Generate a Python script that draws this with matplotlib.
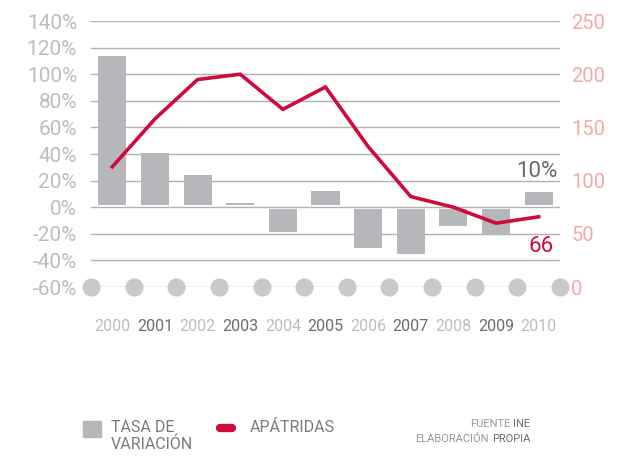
import numpy as np
import matplotlib.pyplot as plt
from matplotlib.patches import Rectangle
from matplotlib.lines import Line2D

plt.rcParams['font.family'] = ['Roboto', 'DejaVu Sans']

years = ['2000', '2001', '2002', '2003', '2004', '2005',
         '2006', '2007', '2008', '2009', '2010']
tasa = [112, 39, 23, 1.3, -17.5, 11, -29, -33.5, -12.5, -19.5, 10]   # %
apatridas = [113, 158, 195, 200, 167, 188, 132, 85, 75, 60, 66]

left_ticks = [-60, -40, -20, 0, 20, 40, 60, 80, 100, 120, 140]
right_ticks = [0, 50, 100, 150, 200, 250]

GREY_BAR = '#b6b7ba'
RED = '#cf0a3c'
GRID = '#b2b2b2'
LIGHT = '#bdbdbd'
DARK = '#6d6d6d'
SALMON = '#f2aba3'

fig = plt.figure(figsize=(6.22, 4.59), dpi=100)
ax = fig.add_axes([0.1463, 0.3747, 0.7540, 0.5795])
x = np.arange(len(years))

# bars sit slightly off the zero line
base = np.sign(tasa) * 1.5
ax.bar(x, tasa, bottom=base, width=0.66, color=GREY_BAR, zorder=2)

ax.set_xlim(-0.5, len(years) - 0.5)
ax.set_ylim(-60, 140)
ax.set_yticks(left_ticks)
ax.set_yticklabels([f'{v}%' for v in left_ticks])
ax.yaxis.grid(True, color=GRID, lw=1)
ax.set_axisbelow(True)
for s in ax.spines.values():
    s.set_visible(False)
ax.tick_params(axis='y', length=0, pad=10, labelsize=15, labelcolor=LIGHT)

ax.set_xticks(x)
ax.set_xticklabels(years)
ax.tick_params(axis='x', length=0, pad=23, labelsize=11.5)
for i, lab in enumerate(ax.get_xticklabels()):
    lab.set_color(DARK if i % 2 else LIGHT)

# dots along the bottom line
dots = np.arange(-0.5, len(years), 1.0)
ax.plot(dots, [-60] * len(dots), 'o', ms=12, color='#c8c9cb',
        clip_on=False, zorder=4)

ax.text(x[-1] + 0.45, 22.5, f'{tasa[-1]:.0f}%', ha='right', va='baseline',
        fontsize=16, color='#6a6a6a')

ax2 = ax.twinx()
ax2.set_ylim(0, 250)
ax2.set_yticks(right_ticks)
for s in ax2.spines.values():
    s.set_visible(False)
ax2.tick_params(axis='y', length=0, pad=8, labelsize=14.5, labelcolor=SALMON)
ax2.plot(x, apatridas, color=RED, lw=2.6, solid_joinstyle='miter', zorder=5)
ax2.text(x[-1] + 0.35, 33, str(apatridas[-1]), ha='right', va='baseline',
         fontsize=16, color=RED)

# legend
fig.patches.append(Rectangle((0.1334, 0.0479), 0.0289, 0.0349,
                             transform=fig.transFigure, color=GREY_BAR))
fig.text(0.1785, 0.084, 'TASA DE\nVARIACIÓN', ha='left', va='top',
         fontsize=11.5, color='#7a7a7a', linespacing=1.1)
fig.lines.append(Line2D([0.353, 0.373], [0.0675, 0.0675], transform=fig.transFigure,
                        color=RED, lw=6, solid_capstyle='round'))
fig.text(0.4008, 0.084, 'APÁTRIDAS', ha='left', va='top',
         fontsize=11.5, color='#7a7a7a')

# source note
for y, light, dark in [(0.0654, 'FUENTE', 'INE'),
                       (0.032, 'ELABORACIÓN', 'PROPIA')]:
    t = fig.text(0.853, y, dark, ha='right', va='bottom', fontsize=8, color=DARK)
    ax.annotate(light, xy=(0, 0), xycoords=t, xytext=(-2.5, 0),
                textcoords='offset points', ha='right', va='bottom',
                fontsize=8, color='#9a9a9a', annotation_clip=False)

fig.savefig('out.png', dpi=100)
